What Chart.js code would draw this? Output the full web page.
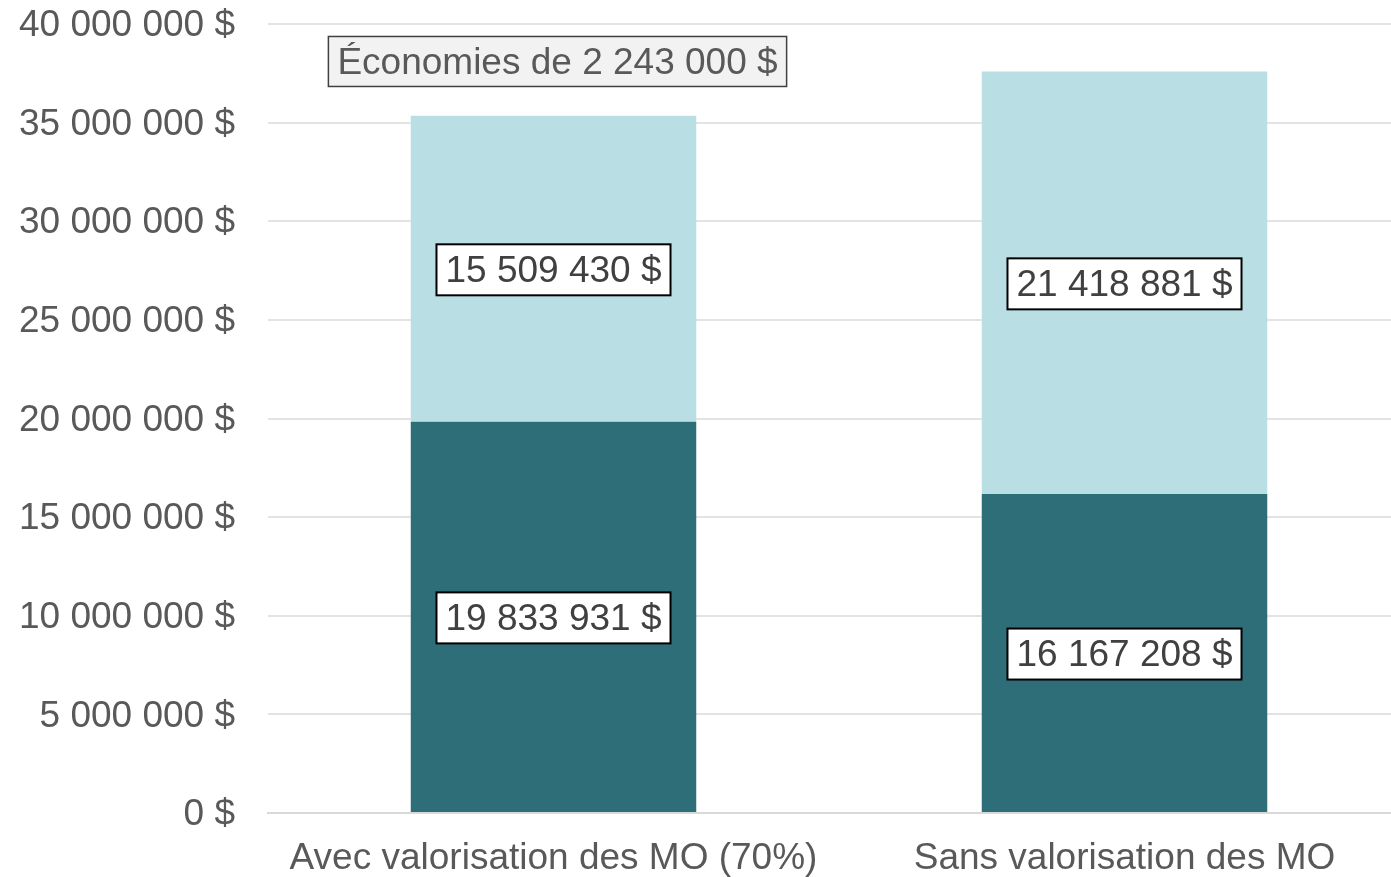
<!DOCTYPE html>
<html lang="fr">
<head>
<meta charset="utf-8">
<script src="https://cdn.jsdelivr.net/npm/chart.js@4/dist/chart.umd.min.js"></script>
<style>
  html, body { margin: 0; padding: 0; overflow: hidden; background: #fff; }
  canvas { display: block; }
</style>
</head>
<body>
<canvas id="chart" width="1410" height="877"></canvas>
<script>
const categories = ['Avec valorisation des MO (70%)', 'Sans valorisation des MO'];
const baseValues = [19833931, 16167208];
const upperValues = [15509430, 21418881];
const yTicks = [0, 5000000, 10000000, 15000000, 20000000, 25000000, 30000000, 35000000, 40000000];
const savingsText = 'Économies de 2 243 000 $';
const savingsAnchor = [0, 38100000]; // category index, value

const FONT = '"Liberation Sans", Arial, sans-serif';
const SIZE = 37;

function money(v) {
  return String(Math.round(v)).replace(/\B(?=(\d{3})+(?!\d))/g, ' ') + ' $';
}

// boxed labels centered in each stacked segment
const boxLabels = {
  id: 'boxLabels',
  afterDatasetsDraw(chart) {
    const ctx = chart.ctx;
    ctx.save();
    ctx.font = SIZE + 'px ' + FONT;
    ctx.textAlign = 'center';
    ctx.textBaseline = 'middle';
    chart.data.datasets.forEach((ds, di) => {
      const meta = chart.getDatasetMeta(di);
      meta.data.forEach((bar, i) => {
        const txt = money(ds.data[i]);
        const cy = (bar.y + bar.base) / 2 + 1;
        const w = ctx.measureText(txt).width + 18;
        const h = 51;
        ctx.fillStyle = '#ffffff';
        ctx.fillRect(bar.x - w / 2, cy - h / 2, w, h);
        ctx.lineWidth = 2;
        ctx.strokeStyle = '#000000';
        ctx.strokeRect(bar.x - w / 2, cy - h / 2, w, h);
        ctx.fillStyle = '#404040';
        ctx.fillText(txt, bar.x, cy + 2);
      });
    });

    // savings note
    const x = chart.scales.x.getPixelForValue(savingsAnchor[0]) + 4;
    const y = chart.scales.y.getPixelForValue(savingsAnchor[1]);
    const w = ctx.measureText(savingsText).width + 18;
    const h = 50;
    ctx.fillStyle = '#f2f2f2';
    ctx.fillRect(x - w / 2, y - h / 2, w, h);
    ctx.lineWidth = 1.5;
    ctx.strokeStyle = '#404040';
    ctx.strokeRect(x - w / 2, y - h / 2, w, h);
    ctx.fillStyle = '#595959';
    ctx.fillText(savingsText, x, y + 2);
    ctx.restore();
  }
};

new Chart(document.getElementById('chart'), {
  type: 'bar',
  data: {
    labels: categories,
    datasets: [
      { label: 'Base', data: baseValues, backgroundColor: '#2e6e78' },
      { label: 'Supplément', data: upperValues, backgroundColor: '#b9dfe5' }
    ]
  },
  options: {
    responsive: false,
    animation: false,
    layout: { padding: { top: 24, left: 0, right: 0, bottom: 0 } },
    datasets: { bar: { categoryPercentage: 1, barPercentage: 0.5 } },
    plugins: {
      legend: { display: false },
      tooltip: { enabled: false }
    },
    scales: {
      x: {
        stacked: true,
        grid: { display: false, drawTicks: false },
        border: { color: '#d9d9d9', width: 2 },
        ticks: { color: '#595959', font: { family: FONT, size: SIZE }, padding: 24, maxRotation: 0, autoSkip: false },
        afterFit(axis) {
          axis.height = 64;
          axis.paddingLeft = 0;
          axis.paddingRight = 0;
        }
      },
      y: {
        stacked: true,
        min: 0,
        max: 40000000,
        afterBuildTicks(axis) { axis.ticks = yTicks.map(v => ({ value: v })); },
        grid: { color: '#e3e3e3', lineWidth: 2, drawTicks: false },
        border: { display: false },
        ticks: {
          color: '#595959',
          font: { family: FONT, size: SIZE },
          padding: 33,
          labelOffset: 2,
          callback: v => money(v)
        },
        afterFit(axis) {
          axis.width = 268;
          axis.paddingTop = 0;
          axis.paddingBottom = 0;
        }
      }
    }
  },
  plugins: [boxLabels]
});
</script>
</body>
</html>
